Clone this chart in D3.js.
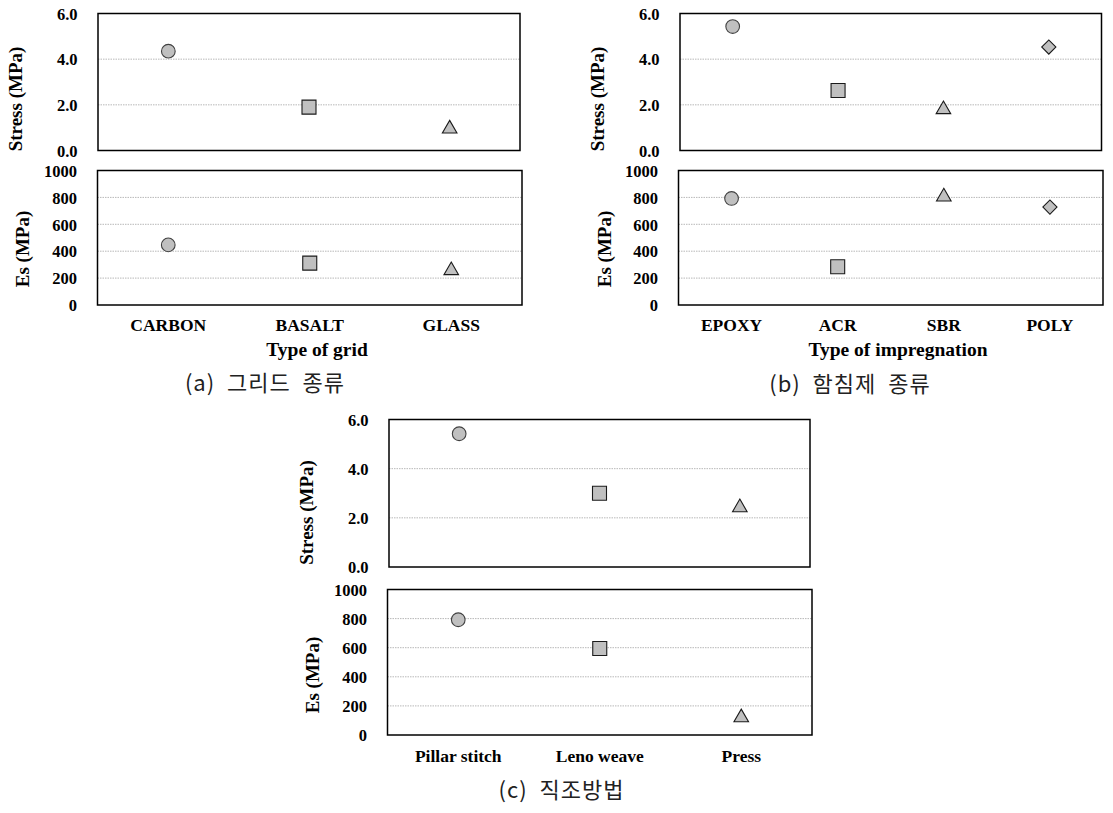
<!DOCTYPE html>
<html>
<head>
<meta charset="utf-8">
<script src="https://cdn.jsdelivr.net/npm/d3@7"></script>
<style>
  html, body { margin: 0; padding: 0; background: #fff; }
  svg { display: block; }
  .tick text { font-family: "Liberation Serif", "Times New Roman", serif; font-weight: bold; fill: #000; }
</style>
</head>
<body>
<script>
// ---------------- DATA ----------------
const gridCats = ["CARBON", "BASALT", "GLASS"];
const gridStress = [4.35, 1.9, 0.95];
const gridEs = [447, 311, 257];

const impCats = ["EPOXY", "ACR", "SBR", "POLY"];
const impStress = [5.43, 2.63, 1.8, 4.53];
const impEs = [792, 284, 805, 728];

const weaveCats = ["Pillar stitch", "Leno weave", "Press"];
const weaveStress = [5.42, 3.0, 2.42];
const weaveEs = [792, 594, 120];

const stressTicks = [0, 2, 4, 6];
const esTicks = [0, 200, 400, 600, 800, 1000];
const shapes = ["circle", "square", "triangle", "diamond"];

const stressTitle = "Stress (MPa)";
const esTitle = "Es (MPa)";
const captions = ["(a)  그리드  종류", "(b)  함침제  종류", "(c)  직조방법"];
const xTitles = ["Type of grid", "Type of impregnation", null];

// ---------------- LAYOUT ----------------
const W = 1113, H = 813;
const svg = d3.select("body").append("svg").attr("width", W).attr("height", H);

const groups = [
  { cats: gridCats, stress: gridStress, es: gridEs,
    sFrame: [98, 520, 13.5, 150.5], eFrame: [97.5, 522, 170.5, 305],
    sTitleX: 15.5, eTitleX: 22.5, sTitleY: 99, eTitleY: 249,
    catY: 324.5, xTitleX: 317, xTitleY: 349.5, capX: 265, capY: 383 },
  { cats: impCats, stress: impStress, es: impEs,
    sFrame: [680, 1101.5, 13.5, 150.5], eFrame: [678.5, 1103, 170.5, 305],
    sTitleX: 597, eTitleX: 604, sTitleY: 99, eTitleY: 249,
    catY: 324.5, xTitleX: 898, xTitleY: 349.5, capX: 850, capY: 384 },
  { cats: weaveCats, stress: weaveStress, es: weaveEs,
    sFrame: [389, 810, 419.5, 567], eFrame: [387.5, 812, 589.5, 735],
    sTitleX: 306.5, eTitleX: 312.5, sTitleY: 512.5, eTitleY: 675,
    catY: 756, xTitleX: null, xTitleY: null, capX: 561.5, capY: 790 }
];

function symbolPath(shape) {
  if (shape === "circle") return d3.symbol(d3.symbolCircle, 147)();
  if (shape === "square") return d3.symbol(d3.symbolSquare, 196)();
  if (shape === "triangle") return d3.symbol(d3.symbolTriangle, 92)();
  return d3.symbol(d3.symbolSquare, 100)();
}

function drawPanel(g, frame, cats, values, ticks, fmt, title, titleX, titleY) {
  const [x0, x1, y0, y1] = frame;
  const x = d3.scalePoint().domain(cats).range([x0, x1]).padding(0.5);
  const y = d3.scaleLinear().domain([ticks[0], ticks[ticks.length - 1]]).range([y1, y0]);

  // gridlines
  g.append("g").selectAll("line")
    .data(ticks.slice(1, -1))
    .join("line")
    .attr("x1", x0).attr("x2", x1)
    .attr("y1", d => y(d)).attr("y2", d => y(d))
    .attr("stroke", "#b8b8b8").attr("stroke-width", 1)
    .attr("stroke-dasharray", "1.5,1");

  // frame
  g.append("rect")
    .attr("x", x0).attr("y", y0)
    .attr("width", x1 - x0).attr("height", y1 - y0)
    .attr("fill", "none").attr("stroke", "#000").attr("stroke-width", 1.5);

  // y axis
  const ax = g.append("g").attr("transform", `translate(${x0},0)`)
    .call(d3.axisLeft(y).tickValues(ticks).tickFormat(fmt).tickSize(0).tickPadding(20.5));
  ax.select(".domain").remove();
  ax.selectAll("text").attr("font-size", 16.5).attr("dy", "0.35em");

  // y title
  g.append("text")
    .attr("transform", `translate(${titleX},${titleY}) rotate(-90)`)
    .attr("text-anchor", "middle").attr("dy", "0.35em")
    .attr("font-family", "'Liberation Serif', 'Times New Roman', serif")
    .attr("font-weight", "bold").attr("font-size", 19)
    .text(title);

  // markers
  g.append("g").selectAll("path")
    .data(cats.map((c, i) => ({ c, v: values[i], s: shapes[i] })))
    .join("path")
    .attr("d", d => symbolPath(d.s))
    .attr("transform", d => `translate(${x(d.c)},${y(d.v)})` + (d.s === "diamond" ? " rotate(45)" : ""))
    .attr("fill", "#c0c0c0")
    .attr("stroke", d => d.s === "circle" ? "#404040" : "#1a1a1a")
    .attr("stroke-width", 1.1);

  return x;
}

groups.forEach((G, gi) => {
  const g = svg.append("g");
  drawPanel(g, G.sFrame, G.cats, G.stress, stressTicks, d3.format(".1f"), stressTitle, G.sTitleX, G.sTitleY);
  const x = drawPanel(g, G.eFrame, G.cats, G.es, esTicks, d3.format("d"), esTitle, G.eTitleX, G.eTitleY);

  // category labels
  g.append("g").selectAll("text")
    .data(G.cats)
    .join("text")
    .attr("x", d => x(d)).attr("y", G.catY)
    .attr("text-anchor", "middle").attr("dy", "0.35em")
    .attr("font-family", "'Liberation Serif', 'Times New Roman', serif")
    .attr("font-weight", "bold").attr("font-size", 17.5)
    .text(d => d);

  if (xTitles[gi]) {
    g.append("text")
      .attr("x", G.xTitleX).attr("y", G.xTitleY)
      .attr("text-anchor", "middle").attr("dy", "0.35em")
      .attr("font-family", "'Liberation Serif', 'Times New Roman', serif")
      .attr("font-weight", "bold").attr("font-size", 19.5)
      .text(xTitles[gi]);
  }

  g.append("text")
    .attr("x", G.capX).attr("y", G.capY)
    .attr("text-anchor", "middle").attr("dy", "0.35em")
    .attr("font-family", "'Noto Sans CJK KR', 'Noto Sans', sans-serif")
    .attr("font-size", 22).attr("fill", "#222")
    .attr("letter-spacing", 1)
    .style("white-space", "pre")
    .text(captions[gi]);
});
</script>
</body>
</html>
